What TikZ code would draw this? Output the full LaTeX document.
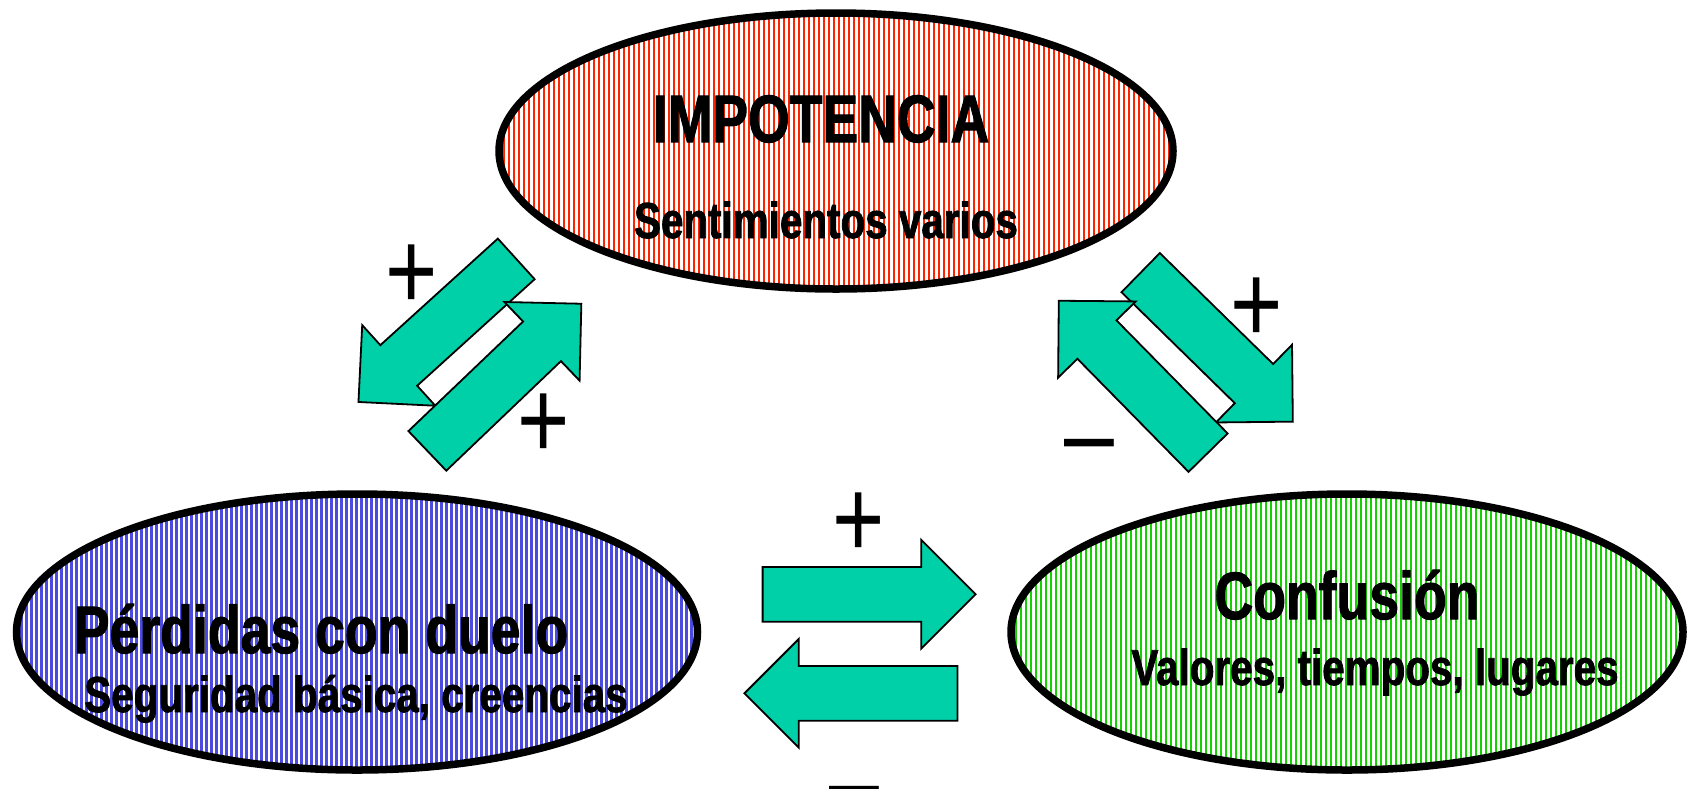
\documentclass[tikz,border=0pt]{standalone}
\usepackage{fontspec}
\setmainfont{Liberation Sans}
\newfontfamily\narrowfont[FakeStretch=0.8, BoldFeatures={FakeBold=1.5}]{Liberation Sans}
\usepackage{tikz}
\usetikzlibrary{shapes.geometric, shapes.arrows, positioning}
\usepackage{xcolor}
\definecolor{impotred}{RGB}{255,36,0}
\definecolor{duelblue}{RGB}{75,75,225}
\definecolor{confgreen}{RGB}{20,210,0}
\definecolor{arrowteal}{RGB}{0,208,168}
\tikzset{stripes/.style={path picture={\foreach \s in {0,2.5,...,345} \draw[#1, line width=1.4pt] ([xshift=\s pt]path picture bounding box.south west) -- ([xshift=\s pt]path picture bounding box.north west);}}}
\tikzstyle{bubble} = [ellipse, draw=black, line width=3.75pt, fill=white, inner sep=0pt, minimum height=138pt]
\tikzstyle{title} = [anchor=base, inner sep=0pt, font=\narrowfont\bfseries\fontsize{33.5}{36}\selectfont]
\tikzstyle{subtitle} = [anchor=base, inner sep=0pt, font=\narrowfont\bfseries\fontsize{25.25}{28}\selectfont]
\tikzstyle{blockarrow} = [single arrow, draw=black, line width=0.9pt, fill=arrowteal, inner xsep=0pt, inner ysep=13.25pt, minimum width=0pt, minimum height=106.5pt, single arrow head extend=13.5pt, anchor=tail]
\tikzstyle{sign} = [inner sep=0pt, font=\narrowfont\fontsize{56}{60}\selectfont]

\begin{document}
\begin{tikzpicture}[x=0.5pt, y=-0.5pt, node distance=240.5pt]
\useasboundingbox (0,0) rectangle (1690,788);

\node (impot) [bubble, stripes=impotred, minimum width=337pt] at (836,151) {};
\node (perdidas) [bubble, stripes=duelblue, minimum width=340.5pt, below of=impot, xshift=-239.5pt] {};
\node (confusion) [bubble, stripes=confgreen, minimum width=336pt, below of=impot, xshift=255.5pt] {};

\node (impotA) [title] at (821,142) {IMPOTENCIA};
\node (impotB) [subtitle] at (826,238) {Sentimientos varios};
\node (perdidasA) [title] at (321,653) {Pérdidas con duelo};
\node (perdidasB) [subtitle] at (356,712) {Seguridad básica, creencias};
\node (confusionA) [title] at (1347,619) {Confusión};
\node (confusionB) [subtitle] at (1375,685) {Valores, tiempos, lugares};

\node (impot2perd) [blockarrow, rotate=222.2] at (516.9,258.3) {};
\node (perd2impot) [blockarrow, rotate=43.7] at (426.7,451.5) {};
\node (impot2conf) [blockarrow, rotate=-44.4] at (1140,272) {};
\node (conf2impot) [blockarrow, rotate=134.5] at (1208.7,453.3) {};
\node (perd2conf) [blockarrow] at (761.7,594.3) {};
\node (conf2perd) [blockarrow, rotate=180] at (958.3,693.3) {};

\node (plusA) [sign] at (412,277) {+};
\node (plusB) [sign] at (544,426) {+};
\node (plusC) [sign] at (1257,310) {+};
\node (minusA) [sign] at (1089,455) {–};
\node (plusD) [sign] at (859,525) {+};
\node (minusB) [sign] at (854,802) {–};

\end{tikzpicture}
\end{document}
